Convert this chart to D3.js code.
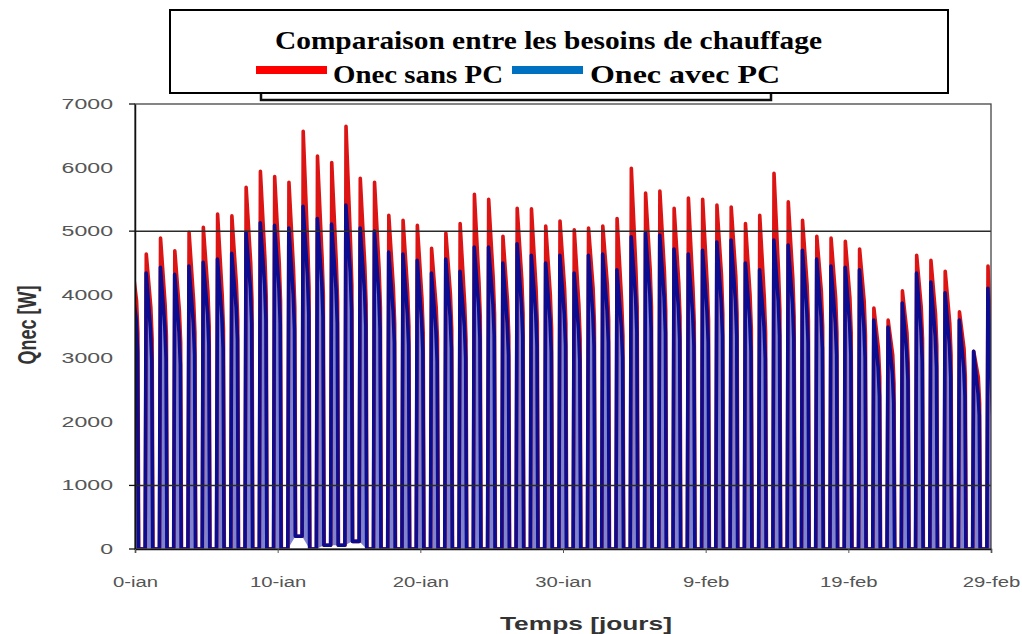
<!DOCTYPE html>
<html><head><meta charset="utf-8">
<script src="https://cdn.jsdelivr.net/npm/d3@7"></script>
<style>body{margin:0;background:#fff} svg{display:block}</style>
</head><body>
<svg id="c" width="1022" height="634"></svg>
<script>
// ---- data (one spike per day) ----
const tickDays   = [0, 10, 20, 30, 40, 50, 60];
const tickLabels = ["0-ian", "10-ian", "20-ian", "30-ian", "9-feb", "19-feb", "29-feb"];
const yTickValues = [0, 1000, 2000, 3000, 4000, 5000, 6000, 7000];
const yTickMarks  = [0, 1000, 5000, 7000];
const gridValues  = [1000, 5000];
const seriesNames = ["Onec sans PC", "Onec avec PC"];

const redPeak = [4510,4640,4890,4690,4980,5060,5270,5240,5690,5940,5860,5770,6570,6180,6080,6650,5830,5770,5250,5170,
                 5090,4730,4970,5120,5580,5500,4920,5360,5350,5080,5160,5020,5050,5080,5200,5990,5600,5630,5360,5520,
                 5500,5410,5380,5120,5250,5910,5460,5170,4920,4890,4840,4720,3790,3600,4060,4620,4540,4370,3730,3110,4450];
const redMid  = [3900,3800,3850,3750,3900,4050,4000,4150,4500,4550,4500,4400,4750,4600,4500,4800,4450,4400,4100,4050,
                 3950,3800,4000,3850,4200,4250,3900,4250,4100,4000,4100,3850,4100,4150,3900,4400,4400,4350,4200,4100,
                 4150,4300,4300,4000,3950,4350,4250,4150,4050,3950,3950,3900,3150,3050,3400,3800,3700,3550,3150,2700,2400];
const redLow  = [3400,3300,3350,3250,3400,3500,3450,3600,3900,3950,3900,3800,4100,4000,3900,4150,3850,3800,3550,3500,
                 3400,3300,3450,3300,3650,3700,3350,3700,3550,3450,3550,3300,3550,3600,3350,3800,3800,3750,3650,3550,
                 3600,3700,3700,3450,3400,3750,3650,3600,3500,3400,3400,3350,2700,2600,2900,3300,3200,3050,2700,2300,2000];
const redTrough = [0,0,0,0,0,0,0,0,0,0,0,200,0,60,60,120,0,0,0,0,
                   0,0,0,0,0,0,0,0,0,0,0,0,0,0,0,0,0,0,0,0,
                   0,0,0,0,0,0,0,0,0,0,0,0,0,0,0,0,0,0,0,0,0];
const bluePeak = [4150,4340,4430,4320,4450,4510,4560,4650,4980,5130,5090,5050,5390,5200,5110,5410,5050,5000,4670,4640,
                  4540,4340,4560,4370,4750,4750,4500,4800,4620,4500,4620,4340,4620,4640,4390,4910,4970,4940,4720,4640,
                  4700,4830,4860,4500,4390,4860,4780,4700,4560,4450,4430,4390,3600,3490,3870,4340,4200,4030,3600,3110,4100];
const blueMid  = [3600,3450,3500,3400,3550,3700,3650,3800,4100,4150,4100,4000,4300,4200,4100,4350,4050,4000,3750,3700,
                  3600,3450,3650,3500,3800,3850,3550,3850,3700,3600,3700,3450,3700,3750,3500,3950,4000,3950,3800,3700,
                  3750,3900,3900,3600,3500,3900,3850,3750,3650,3550,3550,3500,2850,2750,3100,3450,3350,3200,2850,2450,2200];
const blueLow  = [3100,2950,3000,2900,3050,3200,3150,3300,3550,3600,3550,3450,3700,3650,3550,3750,3500,3450,3250,3200,
                  3100,2950,3150,3000,3300,3350,3050,3350,3200,3100,3200,2950,3200,3250,3000,3400,3450,3400,3300,3200,
                  3250,3350,3350,3100,3000,3350,3300,3250,3150,3050,3050,3000,2400,2300,2650,2950,2850,2700,2400,2100,1900];
const blueTrough = [0,0,0,0,0,0,0,0,0,0,0,200,0,60,60,120,0,0,0,0,
                    0,0,0,0,0,0,0,0,0,0,0,0,0,0,0,0,0,0,0,0,
                    0,0,0,0,0,0,0,0,0,0,0,0,0,0,0,0,0,0,0,0,0];

// ---- layout ----
const svg = d3.select("#c");
const X0 = 135, X1 = 991, Y0 = 549, Y1 = 104;
const x = d3.scaleLinear().domain([0, 60]).range([X0, X1]);
const y = d3.scaleLinear().domain([0, 7000]).range([Y0, Y1]);

// one spike per day: rise, peak, mid, low, drop to night trough
function buildSpikes(peak, mid, low, trough, o) {
  return peak.map((p, d) => {
    const prev = d > 0 ? trough[d - 1] : 0;
    return [
      [d + o.rise, prev],
      [d + o.peak, p],
      [d + o.mid, mid[d]],
      [d + o.low, low[d]],
      [d + o.end, trough[d]]
    ];
  });
}
const redSpikes  = buildSpikes(redPeak, redMid, redLow, redTrough, {rise: -0.28, peak: -0.21, mid: 0.11, low: 0.2, end: 0.26});
const blueSpikes = buildSpikes(bluePeak, blueMid, blueLow, blueTrough, {rise: -0.29, peak: -0.22, mid: 0.09, low: 0.18, end: 0.24});
const flat = s => s.flat();

svg.append("defs").append("clipPath").attr("id", "plotclip")
  .append("rect").attr("x", X0).attr("y", Y1).attr("width", X1 - X0).attr("height", Y0 - Y1 - 0.5);

const plot = svg.append("g").attr("clip-path", "url(#plotclip)");
const line = d3.line().x(d => x(d[0])).y(d => y(d[1]));

// light interior of each blue spike
plot.append("g").selectAll("path").data(blueSpikes).join("path")
  .attr("d", d => line(d) + "Z").attr("fill", "#7f84cf");
plot.append("path").datum(flat(redSpikes)).attr("d", line).attr("fill", "none")
  .attr("stroke", "#dd1414").attr("stroke-width", 3.6).attr("stroke-linejoin", "round");
plot.append("path").datum(flat(blueSpikes)).attr("d", line).attr("fill", "none")
  .attr("stroke", "#0c0c8e").attr("stroke-width", 3.6).attr("stroke-linejoin", "round");

// grid lines
svg.append("g").selectAll("line").data(gridValues).join("line")
  .attr("x1", X0).attr("x2", X1).attr("y1", d => y(d)).attr("y2", d => y(d))
  .attr("stroke", "#2a2a2a").attr("stroke-width", 1.5);

// frame
svg.append("rect").attr("x", X0).attr("y", Y1).attr("width", X1 - X0).attr("height", Y0 - Y1)
  .attr("fill", "none").attr("stroke", "#444").attr("stroke-width", 1.3);

// remnant of legend frame under title box
svg.append("path").attr("d", "M261,93V100H771V93").attr("fill", "none")
  .attr("stroke", "#111").attr("stroke-width", 2.5);

function stretch(sel, f) {
  sel.each(function () {
    const w = this.getComputedTextLength();
    d3.select(this).attr("textLength", w * f).attr("lengthAdjust", "spacingAndGlyphs");
  });
}

// y axis
const yAxis = svg.append("g").attr("transform", `translate(${X0},0)`)
  .call(d3.axisLeft(y).tickValues(yTickValues).tickSize(0).tickPadding(22).tickFormat(d3.format("d")));
yAxis.select(".domain").attr("stroke", "#111").attr("stroke-width", 1.5);
yAxis.selectAll("text").attr("font-family", "Liberation Sans, Arial, sans-serif").attr("font-size", 14)
  .attr("fill", "#555").call(stretch, 1.65);
svg.append("g").selectAll("line").data(yTickMarks).join("line")
  .attr("x1", X0 - 6).attr("x2", X0).attr("y1", d => y(d)).attr("y2", d => y(d))
  .attr("stroke", "#111").attr("stroke-width", 1.3);

// x axis
const xAxis = svg.append("g").attr("transform", `translate(0,${Y0})`)
  .call(d3.axisBottom(x).tickValues(tickDays).tickSize(4).tickPadding(24).tickFormat((d, i) => tickLabels[i]));
xAxis.select(".domain").attr("stroke", "#111").attr("stroke-width", 1.5);
xAxis.selectAll(".tick line").attr("stroke", "#555");
xAxis.selectAll("text").attr("font-family", "Liberation Sans, Arial, sans-serif").attr("font-size", 14)
  .attr("fill", "#555").call(stretch, 1.45);

// axis titles
svg.append("text").attr("transform", "translate(36,325) scale(1.4,1) rotate(-90)")
  .attr("text-anchor", "middle").attr("font-family", "Liberation Sans, Arial, sans-serif")
  .attr("font-weight", "bold").attr("font-size", 18).attr("fill", "#333").text("Qnec [W]");
svg.append("text").attr("x", 586).attr("y", 630).attr("text-anchor", "middle")
  .attr("font-family", "Liberation Sans, Arial, sans-serif").attr("font-weight", "bold")
  .attr("font-size", 19).attr("fill", "#333").text("Temps [jours]")
  .attr("textLength", 172).attr("lengthAdjust", "spacingAndGlyphs");

// title box & legend
svg.append("rect").attr("x", 170).attr("y", 10).attr("width", 778).attr("height", 83)
  .attr("fill", "#fff").attr("stroke", "#000").attr("stroke-width", 2);
svg.append("text").attr("x", 275).attr("y", 49)
  .attr("font-family", "Liberation Serif, Times New Roman, serif").attr("font-weight", "bold")
  .attr("font-size", 25).attr("fill", "#000").text("Comparaison entre les besoins de chauffage")
  .attr("textLength", 547).attr("lengthAdjust", "spacingAndGlyphs");

const legendItems = [
  {name: seriesNames[0], color: "#ff0000", sx: 256, tx: 333, tw: 170},
  {name: seriesNames[1], color: "#0070c0", sx: 512, tx: 590, tw: 190}
];
const lg = svg.append("g").selectAll("g").data(legendItems).join("g");
lg.append("rect").attr("x", d => d.sx).attr("y", 66).attr("width", 71).attr("height", 8).attr("fill", d => d.color);
lg.append("text").attr("x", d => d.tx).attr("y", 83)
  .attr("font-family", "Liberation Serif, Times New Roman, serif").attr("font-weight", "bold")
  .attr("font-size", 25).attr("fill", "#000").text(d => d.name)
  .attr("textLength", d => d.tw).attr("lengthAdjust", "spacingAndGlyphs");
</script>
</body></html>
